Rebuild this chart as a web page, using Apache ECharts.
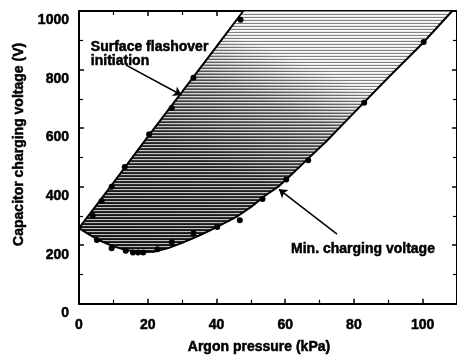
<!DOCTYPE html>
<html lang="en">
<head>
    <meta charset="UTF-8">
    <title>Argon pressure vs charging voltage</title>
    <style>
        html, body { margin: 0; padding: 0; background: #fff; }
        #chart { width: 457px; height: 359px; }
    </style>
    <script src="https://cdn.jsdelivr.net/npm/echarts@6/dist/echarts.min.js"></script>
</head>
<body>
<div id="chart"></div>
<script>
    // upper boundary: surface flashover initiation (kPa, V)
    const upperP = [0, 10, 20, 30, 40, 47.8];
    const upperV = [258, 413, 570, 724, 878, 1000];
    // lower boundary: min. charging voltage
    const lowerP = [0, 3, 6, 10, 14, 18, 22, 26, 30, 34, 38, 42, 46, 50, 54, 58, 62, 66, 72, 80, 90, 100, 108.6];
    const lowerV = [258, 236, 216, 196, 183, 177, 178, 190, 208, 228, 250, 274, 298, 330, 368, 400, 443, 488, 555, 652, 773, 890, 1000];
    // measured points
    const upperDotP = [4, 6.6, 9.5, 13.3, 20.4, 27, 33.3, 47];
    const upperDotV = [301, 351, 400, 467, 579, 669, 772, 970];
    const lowerDotP = [5.2, 9.5, 13.6, 15.7, 17.2, 18.7, 22.8, 27, 33.3, 40.2, 46.8, 53.4, 60.3, 66.7, 83, 100.3];
    const lowerDotV = [218, 190, 181, 175, 175, 175, 186, 210, 242, 262, 285, 358, 424, 490, 687, 894];
    // annotation texts
    const flashoverText = 'Surface flashover\ninitiation';
    const minText = 'Min. charging voltage';

    const font = 'Arial, "Liberation Sans", sans-serif';

    function zip(a, b) {
        return a.map(function (v, i) { return [v, b[i]]; });
    }

    // horizontal stripe texture for the shaded region
    function makeStripes() {
        const c = document.createElement('canvas');
        c.width = 4;
        c.height = 3;
        const ctx = c.getContext('2d');
        ctx.fillStyle = 'rgba(255,255,255,0.7)';
        ctx.fillRect(0, 0, 4, 1);
        ctx.fillStyle = 'rgba(0,0,0,0.45)';
        ctx.fillRect(0, 2, 4, 1);
        return c;
    }
    const stripes = makeStripes();

    const myChart = echarts.init(document.getElementById('chart'), null, {renderer: 'canvas'});

    // bold, slightly heavy text like the scanned figure
    const txt = {fontFamily: font, fontWeight: 'bold', fontSize: 14, color: '#000', textBorderColor: '#000', textBorderWidth: 0.5};
    const tickStyle = {show: true, inside: true, length: 5, lineStyle: {color: '#000', width: 1.5}};
    const minorStyle = {show: true, splitNumber: 2, length: 4, lineStyle: {color: '#000', width: 1.2}};

    const option = {
        animation: false,
        backgroundColor: '#fff',
        grid: {left: 79, top: 11, width: 383, height: 302},
        xAxis: [{
            type: 'value', min: 0, max: 110, interval: 20, position: 'bottom',
            name: 'Argon pressure (kPa)', nameLocation: 'middle', nameGap: 36,
            nameTextStyle: Object.assign({padding: [0, 18, 0, 0]}, txt),
            axisLine: {onZero: false, lineStyle: {color: '#000', width: 2}},
            axisTick: tickStyle, minorTick: minorStyle,
            axisLabel: Object.assign({showMaxLabel: false, margin: 14}, txt),
            splitLine: {show: false}
        }, {
            type: 'value', min: 0, max: 110, interval: 20, position: 'top',
            axisLine: {onZero: false, lineStyle: {color: '#000', width: 2}},
            axisTick: tickStyle, minorTick: minorStyle,
            axisLabel: {show: false}, splitLine: {show: false}
        }],
        yAxis: [{
            type: 'value', min: 0, max: 1000, interval: 200, position: 'left',
            name: 'Capacitor charging voltage (V)', nameLocation: 'middle', nameGap: 41,
            nameTextStyle: Object.assign({padding: [0, 0, 0, 26]}, txt),
            axisLine: {onZero: false, lineStyle: {color: '#000', width: 2}},
            axisTick: tickStyle, minorTick: minorStyle,
            axisLabel: Object.assign({
                margin: 10, verticalAlign: 'top', lineHeight: 19,
                formatter: function (v) { return String(v); }
            }, txt),
            splitLine: {show: false}
        }, {
            type: 'value', min: 0, max: 1000, interval: 200, position: 'right',
            axisLine: {onZero: false, lineStyle: {color: '#000', width: 2}},
            axisTick: tickStyle, minorTick: minorStyle,
            axisLabel: {show: false}, splitLine: {show: false}
        }],
        series: [
            {
                // shaded region between the two boundaries
                type: 'custom',
                silent: true,
                z: 1,
                data: [[0, 0]],
                renderItem: function (params, api) {
                    const pts = [];
                    for (let i = 0; i < upperP.length; i++) {
                        pts.push(api.coord([upperP[i], upperV[i]]));
                    }
                    for (let i = lowerP.length - 1; i >= 0; i--) {
                        pts.push(api.coord([lowerP[i], lowerV[i]]));
                    }
                    return {
                        type: 'group',
                        children: [{
                            type: 'polygon',
                            shape: {points: pts},
                            style: {
                                fill: new echarts.graphic.LinearGradient(0, 1, 0.25, 0, [
                                    {offset: 0, color: '#1c1c1c'},
                                    {offset: 0.5, color: '#3c3c3c'},
                                    {offset: 0.8, color: '#8a8a8a'},
                                    {offset: 1, color: '#ececec'}
                                ])
                            }
                        }, {
                            type: 'polygon',
                            shape: {points: pts},
                            style: {fill: {image: stripes, repeat: 'repeat'}}
                        }]
                    };
                }
            },
            {
                type: 'line', z: 3, data: zip(upperP, upperV), showSymbol: false, silent: true,
                lineStyle: {color: '#000', width: 2}
            },
            {
                type: 'line', z: 3, data: zip(lowerP, lowerV), showSymbol: false, silent: true,
                lineStyle: {color: '#000', width: 2}
            },
            {
                type: 'scatter', z: 4, data: zip(upperDotP, upperDotV), symbolSize: 6,
                itemStyle: {color: '#000', opacity: 1}
            },
            {
                type: 'scatter', z: 4, data: zip(lowerDotP, lowerDotV), symbolSize: 6,
                itemStyle: {color: '#000', opacity: 1}
            },
            {
                // annotations
                type: 'scatter', z: 5, symbolSize: 0, silent: true,
                itemStyle: {color: '#000', opacity: 1},
                data: [
                    {value: [3.45, 854], label: {formatter: flashoverText}},
                    {value: [61.7, 185], label: {formatter: minText}}
                ],
                label: Object.assign({
                    show: true, position: [0, 0], align: 'left', verticalAlign: 'middle', lineHeight: 14
                }, txt),
                markLine: {
                    silent: true,
                    symbol: ['none', 'arrow'],
                    symbolSize: 8,
                    label: {show: false},
                    lineStyle: {color: '#000', width: 1.5, type: 'solid', opacity: 1},
                    data: [
                        [{coord: [13.7, 815]}, {coord: [29.8, 713]}],
                        [{coord: [75.1, 238]}, {coord: [58.2, 391]}]
                    ]
                }
            }
        ]
    };

    myChart.setOption(option);
</script>
</body>
</html>
